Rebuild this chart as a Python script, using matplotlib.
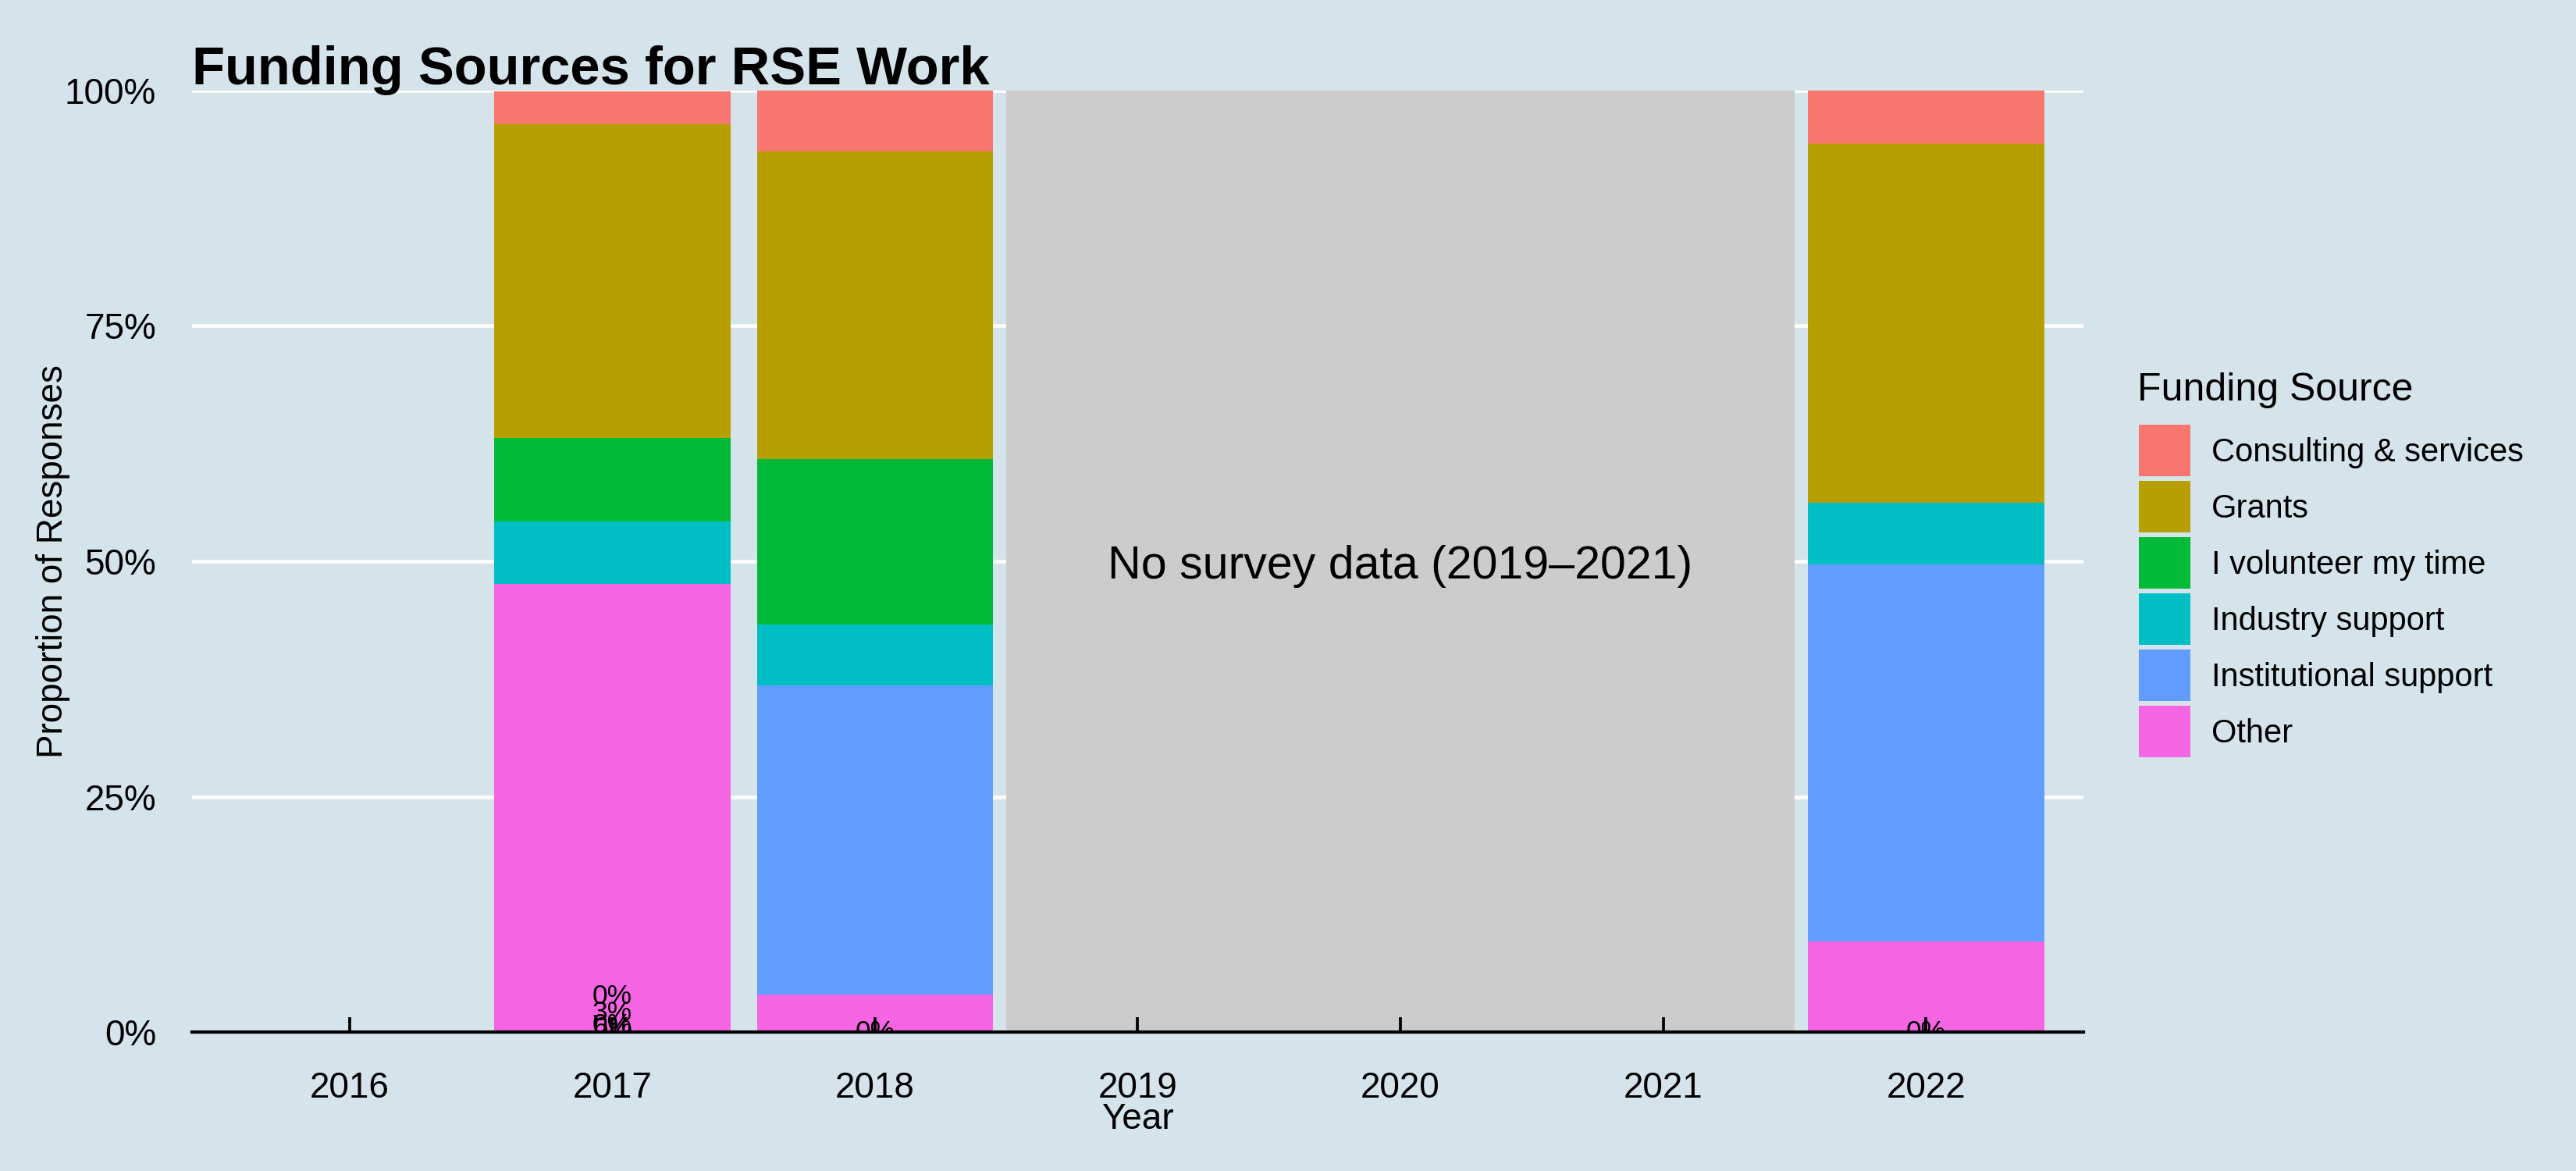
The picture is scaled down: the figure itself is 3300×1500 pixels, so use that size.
import matplotlib.pyplot as plt
import numpy as np
from matplotlib.patches import Rectangle

plt.rcParams['font.family'] = ['Liberation Sans', 'DejaVu Sans']

# dados (proporcao de respostas por ano)
anos = [2017, 2018, 2022]
fontes = ['Consulting & services', 'Grants', 'I volunteer my time',
          'Industry support', 'Institutional support', 'Other']
cores = ['#F8766D', '#B79F00', '#00BA38', '#00BFC4', '#619CFF', '#F564E3']

consulting = [0.035, 0.065, 0.056]
grants = [0.333, 0.326, 0.382]
volunteer = [0.089, 0.176, 0.0]
industry = [0.066, 0.065, 0.065]
institutional = [0.0, 0.328, 0.401]
other = [0.476, 0.040, 0.096]

# rotulos pequenos que aparecem no pe das barras
rotulo_x = [2017, 2017, 2017, 2017, 2018, 2022]
rotulo_y = [0.038, 0.020, 0.007, 0.004, 0.0, 0.0]
rotulo_txt = ['0%', '3%', '0%', '6%', '0%', '0%']

ticks_x = [2016, 2017, 2018, 2019, 2020, 2021, 2022]
ticks_y = [0, 0.25, 0.5, 0.75, 1.0]
ticks_y_txt = ['0%', '25%', '50%', '75%', '100%']

fundo = '#D5E4EB'
W, H = 3300, 1500

fig = plt.figure(figsize=(11, 5), dpi=300, facecolor=fundo)
ax = fig.add_axes([246 / W, 1 - 1322 / H, (2669 - 246) / W, (1322 - 116) / H])
ax.set_facecolor(fundo)

# grade horizontal desenhada por baixo de tudo
for y in ticks_y:
    ax.axhline(y, color='white', linewidth=1.1, zorder=0.5)

# empilha de baixo para cima (Other embaixo, Consulting em cima)
series = [consulting, grants, volunteer, industry, institutional, other]
base = np.zeros(len(anos))
for i in range(len(series) - 1, -1, -1):
    ax.bar(anos, series[i], width=0.9, bottom=base, color=cores[i], linewidth=0, zorder=1)
    base = base + np.array(series[i])

ax.axvspan(2018.5, 2021.5, color='#CCCCCC', linewidth=0, zorder=1)
ax.text(2020, 0.495, 'No survey data (2019\u20132021)', ha='center', va='center', fontsize=14.2)

for x, y, t in zip(rotulo_x, rotulo_y, rotulo_txt):
    ax.text(x, y, t, ha='center', va='center', fontsize=8.5, clip_on=True)

ax.set_xlim(2015.4, 2022.6)
ax.set_ylim(0, 1)
ax.set_xticks(ticks_x)
ax.set_xticklabels([str(a) for a in ticks_x])
ax.set_yticks(ticks_y)
ax.set_yticklabels(ticks_y_txt)
ax.grid(False)
ax.set_axisbelow(False)

for s in ['top', 'right', 'left']:
    ax.spines[s].set_visible(False)
ax.spines['bottom'].set_linewidth(1.0)
ax.spines['bottom'].set_color('black')
ax.spines['bottom'].set_zorder(4)

ax.tick_params(axis='x', direction='in', length=4.5, width=0.9, pad=12, labelsize=11, colors='black')
ax.tick_params(axis='y', length=0, pad=11, labelsize=11, colors='black')

ax.set_xlabel('Year', fontsize=11)
ax.xaxis.set_label_coords(0.5, -0.075)
ax.set_ylabel('Proportion of Responses', fontsize=11)
ax.yaxis.set_label_coords(-0.0644, 0.5)

fig.text(246 / W, 1 - 108 / H, 'Funding Sources for RSE Work', fontsize=16.5,
         fontweight='bold', ha='left', va='baseline')

# legenda desenhada a mao
fig.text(2738 / W, 1 - 513 / H, 'Funding Source', fontsize=12, ha='left', va='baseline')
for i, f in enumerate(fontes):
    topo = 544 + i * 72
    fig.add_artist(Rectangle((2740 / W, 1 - (topo + 66) / H), 66 / W, 66 / H,
                             transform=fig.transFigure, color=cores[i], linewidth=0))
    fig.text(2833 / W, 1 - (topo + 36) / H, f, fontsize=10, ha='left', va='center')

fig.savefig('out.png', dpi=300, facecolor=fundo)
